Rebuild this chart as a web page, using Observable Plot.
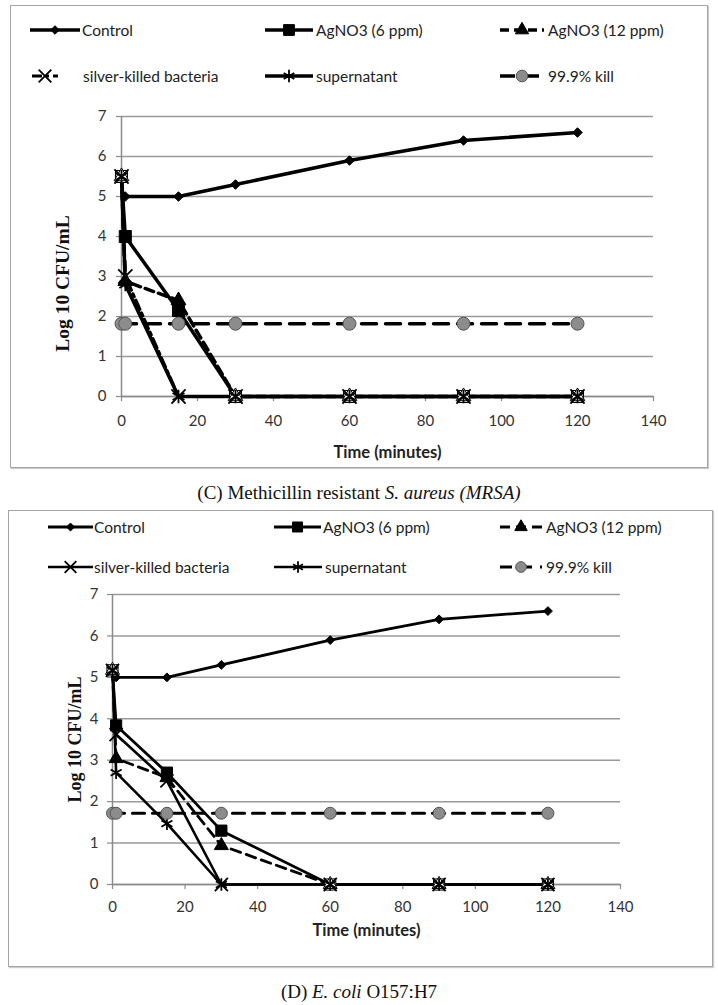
<!DOCTYPE html>
<html><head><meta charset="utf-8">
<script src="https://cdn.jsdelivr.net/npm/d3@7"></script>
<script src="https://cdn.jsdelivr.net/npm/@observablehq/plot@0.6"></script>
<style>
body{margin:0;background:#fff;width:718px;height:1005px;position:relative;overflow:hidden;font-family:Lato,sans-serif;}
.box{position:absolute;border:1.5px solid #a5a5a5;box-sizing:border-box;box-shadow:1px 1px 1px #ccc;}
.legtxt{position:absolute;font-family:Lato,sans-serif;font-size:15.5px;line-height:18px;color:#222;white-space:nowrap;}
.legsvg{position:absolute;overflow:visible;}
.cap{position:absolute;left:0;width:718px;text-align:center;font-family:"Liberation Serif",serif;font-size:19px;line-height:22px;color:#111;}
.plot{position:absolute;}
</style></head><body>
<script>
// ---------- data ----------
const times = [0, 1, 15, 30, 60, 90, 120];
const seriesNames = ["Control", "AgNO3 (6 ppm)", "AgNO3 (12 ppm)", "silver-killed bacteria", "supernatant", "99.9% kill"];
const xTicks = [0, 20, 40, 60, 80, 100, 120, 140];
const yTicks = [0, 1, 2, 3, 4, 5, 6, 7];
const xLabel = "Time (minutes)";
const yLabel = "Log 10 CFU/mL";

// (C) Methicillin resistant S. aureus (MRSA)
const controlC = [null, 5.0, 5.0, 5.3, 5.9, 6.4, 6.6];
const ag6C     = [5.5, 4.0, 2.15, 0, 0, 0, 0];
const ag12C    = [5.5, 2.88, 2.4, 0, 0, 0, 0];
const killedC  = [5.5, 3.0, 0, 0, 0, 0, 0];
const superC   = [5.5, 2.8, 0, 0, 0, 0, 0];
const kill999C = [1.82, 1.82, 1.82, 1.82, 1.82, 1.82, 1.82];

// (D) E. coli O157:H7
const controlD = [null, 5.0, 5.0, 5.3, 5.9, 6.4, 6.6];
const ag6D     = [5.17, 3.84, 2.7, 1.3, 0, 0, 0];
const ag12D    = [5.17, 3.04, 2.58, 0.94, 0, 0, 0];
const killedD  = [5.17, 3.62, 2.5, 0, 0, 0, 0];
const superD   = [5.17, 2.7, 1.47, 0, 0, 0, 0];
const kill999D = [1.72, 1.72, 1.72, 1.72, 1.72, 1.72, 1.72];

// ---------- styles ----------
const symbolMap = {diamond2: d3.symbolDiamond2, square: d3.symbolSquare, triangle: d3.symbolTriangle,
  times: d3.symbolTimes, asterisk: d3.symbolAsterisk, circle: d3.symbolCircle};

const stylesC = [
  {symbol: "diamond2", r: 4.3, fill: "black", sw: 3.5, dash: null, hollowZero: false},
  {symbol: "square",   r: 6.8, fill: "black", sw: 3.5, dash: null, hollowZero: true},
  {symbol: "triangle", r: 5.5, fill: "black", sw: 3.5, dash: "9,5", hollowZero: true},
  {symbol: "times",    r: 6.5, fill: "none",  sw: 3.2, dash: "10,4,3,4", hollowZero: false},
  {symbol: "asterisk", r: 6.5, fill: "none",  sw: 3.5, dash: null, hollowZero: false},
  {symbol: "circle",   r: 6.5, fill: "#8c8c8c", sw: 3.5, dash: "15,9", hollowZero: false}
];
const stylesD = [
  {symbol: "diamond2", r: 4.0, fill: "black", sw: 2.8, dash: null, hollowZero: false},
  {symbol: "square",   r: 6.3, fill: "black", sw: 2.8, dash: null, hollowZero: true},
  {symbol: "triangle", r: 5.2, fill: "black", sw: 2.8, dash: "10,6", hollowZero: true},
  {symbol: "times",    r: 6.0, fill: "none",  sw: 2.6, dash: null, hollowZero: false},
  {symbol: "asterisk", r: 6.0, fill: "none",  sw: 2.6, dash: null, hollowZero: false},
  {symbol: "circle",   r: 6.0, fill: "#8c8c8c", sw: 3.2, dash: "12,8", hollowZero: false}
];

function buildRows(seriesValues) {
  const rows = [];
  seriesValues.forEach((vals, i) => {
    vals.forEach((v, j) => { if (v != null) rows.push({series: seriesNames[i], idx: i, t: times[j], v}); });
  });
  return rows;
}

function el(tag, cls, css) {
  const e = document.createElement(tag);
  if (cls) e.className = cls;
  Object.assign(e.style, css || {});
  document.body.appendChild(e);
  return e;
}

function legendItem(st, sx, sw, tx, y, label) {
  const svg = d3.create("svg").attr("class", "legsvg").attr("width", sw).attr("height", 20)
    .style("left", sx + "px").style("top", (y - 10) + "px");
  svg.append("line").attr("x1", 0).attr("x2", sw).attr("y1", 10).attr("y2", 10)
    .attr("stroke", "black").attr("stroke-width", st.sw).attr("stroke-dasharray", st.dash);
  const path = d3.symbol(symbolMap[st.symbol], Math.PI * st.r * st.r * 0.8)();
  svg.append("path").attr("d", path).attr("transform", `translate(${sw / 2},10)`)
    .attr("fill", st.fill === "none" ? "none" : st.fill)
    .attr("stroke", st.symbol === "circle" ? "#555" : "black")
    .attr("stroke-width", st.fill === "none" ? 1.8 : 1);
  document.body.appendChild(svg.node());
  const t = el("div", "legtxt", {left: tx + "px", top: (y - 9) + "px"});
  t.textContent = label;
}

function panel(cfg) {
  const rows = buildRows(cfg.values);
  const styles = cfg.styles;
  el("div", "box", {left: cfg.box[0] + "px", top: cfg.box[1] + "px", width: cfg.box[2] + "px", height: cfg.box[3] + "px"});
  cfg.legend.forEach((L, i) => legendItem(styles[i], L[0], L[1], L[2], L[3], seriesNames[i]));

  const lineMarks = styles.map((st, i) => Plot.line(rows.filter(d => d.idx === i), {
    x: "t", y: "v", stroke: "black", strokeWidth: st.sw, strokeDasharray: st.dash, strokeLinejoin: "round"
  }));
  const dotMarks = styles.map((st, i) => Plot.dot(rows.filter(d => d.idx === i), {
    x: "t", y: "v", symbol: () => st.symbol, r: st.r,
    fill: st.fill === "none" ? "none" : (d => (st.hollowZero && (d.v === 0 || d.t === 0)) ? "white" : st.fill),
    stroke: st.symbol === "circle" ? "#555" : "black",
    strokeWidth: st.fill === "none" ? 1.8 : 1
  }));

  const chart = Plot.plot({
    width: cfg.svg[2], height: cfg.svg[3],
    marginLeft: cfg.m[0], marginRight: cfg.m[1], marginTop: cfg.m[2], marginBottom: cfg.m[3],
    x: {domain: [0, 140], label: null},
    y: {domain: [0, 7], label: null},
    style: {fontFamily: "Lato, sans-serif", fontSize: "15px", color: "#333", background: "none", overflow: "visible"},
    marks: [
      Plot.gridY(yTicks, {stroke: "#9a9a9a", strokeOpacity: 1, strokeWidth: 1.5}),
      Plot.ruleX([0], {stroke: "#8a8a8a", strokeWidth: 1.5}),
      Plot.ruleY([0], {stroke: "#8a8a8a", strokeWidth: 1.5}),
      Plot.axisX({ticks: xTicks, tickSize: 5, tickPadding: cfg.xPad, stroke: "#8a8a8a", strokeWidth: 1.2, fill: "#333", fontSize: 15, label: null, tickFormat: d => d}),
      Plot.axisY({ticks: yTicks, tickSize: 5, tickPadding: cfg.yPad, stroke: "#8a8a8a", strokeWidth: 1.2, fill: "#333", fontSize: 15, label: null, tickFormat: d => d}),
      ...lineMarks,
      ...dotMarks,
      Plot.text([xLabel], {text: d => d, frameAnchor: "bottom", lineAnchor: "middle", dy: cfg.xTitleDy, fontWeight: "bold", fontSize: 16.5, fill: "#222"}),
      Plot.text([yLabel], {text: d => d, frameAnchor: "left", textAnchor: "middle", rotate: -90, dx: cfg.yTitle[0], dy: cfg.yTitle[1],
        fontFamily: "Liberation Serif, serif", fontWeight: "bold", fontSize: cfg.yTitle[2], fill: "#111"})
    ]
  });
  chart.classList.add("plot");
  chart.style.left = cfg.svg[0] + "px";
  chart.style.top = cfg.svg[1] + "px";
  document.body.appendChild(chart);

  const cap = el("div", "cap", {top: cfg.capTop + "px"});
  cap.innerHTML = cfg.caption;
}

panel({
  values: [controlC, ag6C, ag12C, killedC, superC, kill999C],
  styles: stylesC,
  box: [10, 5, 698, 463],
  svg: [10, 100, 698, 368],
  m: [111, 55, 16, 72],
  xPad: 14, yPad: 10, xTitleDy: 56,
  yTitle: [-59, 27, 19.5],
  legend: [[30, 50, 82, 30], [265, 48, 316, 30], [500, 44, 548, 30],
           [32, 26, 83, 76], [265, 48, 316, 76], [500, 44, 548, 76]],
  caption: '(C) Methicillin resistant <i>S. aureus (MRSA)</i>',
  capTop: 482
});

panel({
  values: [controlD, ag6D, ag12D, killedD, superD, kill999D],
  styles: stylesD,
  box: [8, 510, 705, 457],
  svg: [8, 575, 705, 392],
  m: [104, 93, 19, 83],
  xPad: 12, yPad: 9, xTitleDy: 46,
  yTitle: [-37, 0, 18],
  legend: [[48, 45, 94, 527], [274, 47, 323, 527], [500, 42, 546, 527],
           [48, 45, 94, 567], [274, 48, 325, 567], [500, 42, 546, 567]],
  caption: '(D) <i>E. coli</i> O157:H7',
  capTop: 981
});
</script>
</body></html>
